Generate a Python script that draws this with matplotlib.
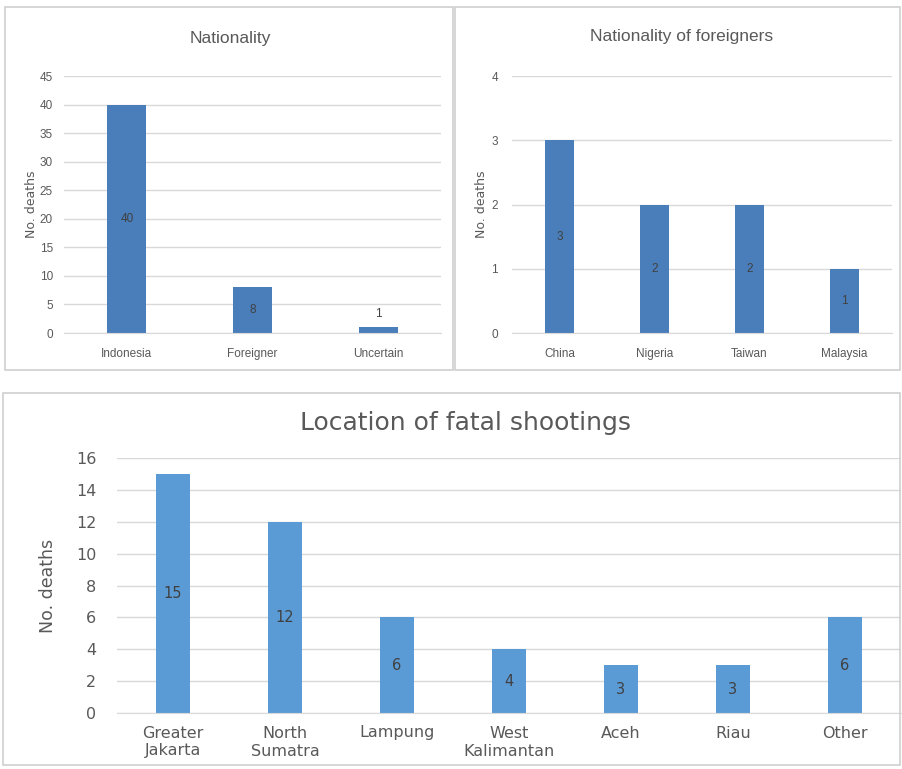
import matplotlib
matplotlib.use('Agg')
import matplotlib.pyplot as plt
from matplotlib.patches import Rectangle

# Chart data
nat_labels = ['Indonesia', 'Foreigner', 'Uncertain']
nat_values = [40, 8, 1]

foreign_labels = ['China', 'Nigeria', 'Taiwan', 'Malaysia']
foreign_values = [3, 2, 2, 1]

loc_labels = ['Greater\nJakarta', 'North\nSumatra', 'Lampung', 'West\nKalimantan',
              'Aceh', 'Riau', 'Other']
loc_values = [15, 12, 6, 4, 3, 3, 6]

W, H = 903, 769
TEXT = '#595959'
GRID = '#D9D9D9'
NARROW = ['Liberation Sans', 'DejaVu Sans']
WIDE = ['DejaVu Sans']

fig = plt.figure(figsize=(W / 100, H / 100), dpi=100)
fig.patch.set_facecolor('white')


def fx(px):
    return px / W


def fy(py):
    return 1 - py / H


def panel_box(x0, y0, x1, y1):
    fig.add_artist(Rectangle((fx(x0), fy(y1)), fx(x1 - x0), (y1 - y0) / H,
                             transform=fig.transFigure, fill=False,
                             edgecolor='#CFCFCF', lw=1.2))


def make_axes(x0, y0, x1, y1):
    return fig.add_axes([fx(x0), fy(y1), fx(x1 - x0), (y1 - y0) / H])


def style_axes(ax, ymax, step, fam, fs, xpad, ypad):
    ax.set_ylim(0, ymax)
    ax.set_yticks(range(0, ymax + 1, step))
    ax.grid(axis='y', color=GRID, lw=1)
    ax.set_axisbelow(True)
    for s in ['top', 'right', 'left']:
        ax.spines[s].set_visible(False)
    ax.spines['bottom'].set_color(GRID)
    ax.tick_params(length=0, colors=TEXT)
    ax.tick_params(axis='x', pad=xpad)
    ax.tick_params(axis='y', pad=ypad)
    for t in ax.get_xticklabels() + ax.get_yticklabels():
        t.set_family(fam)
        t.set_fontsize(fs)


# --- Top-left: Nationality ---
panel_box(5, 7, 453, 370)
ax1 = make_axes(64, 76, 441, 333)
x1 = range(len(nat_labels))
ax1.bar(x1, nat_values, width=0.31, color='#4A7EBB')
ax1.set_xlim(-0.5, len(nat_labels) - 0.5)
ax1.set_xticks(list(x1))
ax1.set_xticklabels(nat_labels)
style_axes(ax1, 45, 5, NARROW, 8.5, 11, 8)
for i, v in enumerate(nat_values):
    if v > 3:
        ax1.text(i, v / 2, str(v), ha='center', va='center', fontsize=8.5,
                 color='#404040', family=NARROW)
    else:
        ax1.text(i, v + 1.2, str(v), ha='center', va='bottom', fontsize=8.5,
                 color='#404040', family=NARROW)
ax1.set_ylabel('No. deaths', fontsize=9, color=TEXT, family=WIDE)
ax1.yaxis.set_label_coords(-0.068, 0.5)
fig.text(fx(230), fy(38), 'Nationality', ha='center', va='center',
         fontsize=12.5, color=TEXT, family=NARROW)

# --- Top-right: Nationality of foreigners ---
panel_box(455, 7, 900, 370)
ax2 = make_axes(512, 76, 892, 333)
x2 = range(len(foreign_labels))
ax2.bar(x2, foreign_values, width=0.31, color='#4A7EBB')
ax2.set_xlim(-0.5, len(foreign_labels) - 0.5)
ax2.set_xticks(list(x2))
ax2.set_xticklabels(foreign_labels)
style_axes(ax2, 4, 1, NARROW, 8.5, 11, 10)
for i, v in enumerate(foreign_values):
    ax2.text(i, v / 2, str(v), ha='center', va='center', fontsize=8.5,
             color='#404040', family=NARROW)
ax2.set_ylabel('No. deaths', fontsize=9, color=TEXT, family=WIDE)
ax2.yaxis.set_label_coords(-0.062, 0.5)
fig.text(fx(682), fy(37), 'Nationality of foreigners', ha='center',
         va='center', fontsize=12.5, color=TEXT, family=NARROW)

# --- Bottom: Location of fatal shootings ---
panel_box(3, 393, 900, 765)
ax3 = make_axes(117, 458, 901, 713)
x3 = range(len(loc_labels))
ax3.bar(x3, loc_values, width=0.31, color='#5B9BD5')
ax3.set_xlim(-0.5, len(loc_labels) - 0.5)
ax3.set_xticks(list(x3))
ax3.set_xticklabels(loc_labels, linespacing=1.25)
style_axes(ax3, 16, 2, WIDE, 11.5, 9, 15)
for i, v in enumerate(loc_values):
    ax3.text(i, v / 2, str(v), ha='center', va='center', fontsize=10.5,
             color='#404040', family=WIDE)
ax3.set_ylabel('No. deaths', fontsize=12.5, color=TEXT, family=WIDE)
ax3.yaxis.set_label_coords(-0.077, 0.5)
fig.text(fx(465), fy(423), 'Location of fatal shootings', ha='center',
         va='center', fontsize=18, color=TEXT, family=WIDE)

fig.savefig('out.png', dpi=100, facecolor='white')
